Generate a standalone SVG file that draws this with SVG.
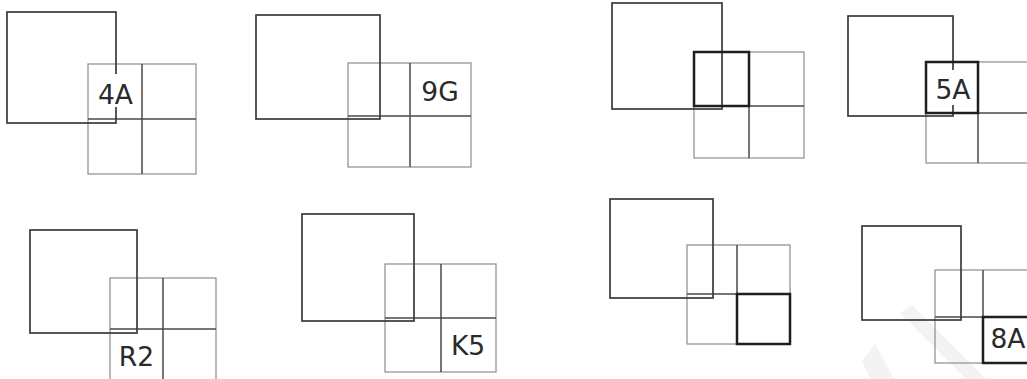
<svg xmlns="http://www.w3.org/2000/svg" width="1027" height="379" viewBox="0 0 1027 379">
  <style>
    .big { fill: none; stroke: #3a3a3a; stroke-width: 1.7; }
    .grid { fill: none; stroke: #8c8c8c; stroke-width: 1.2; }
    .cross { fill: none; stroke: #4a4a4a; stroke-width: 1.5; }
    .bold { fill: none; stroke: #1e1e1e; stroke-width: 2.5; }
    .gap { fill: #fff; stroke: none; }
    .lbl { font-family: "DejaVu Sans", "Liberation Sans", sans-serif; font-size: 26.5px; fill: #2a2a2a; text-anchor: middle; }
    .mark { fill: #f3f3f3; stroke: none; }
  </style>
  <rect width="1027" height="379" fill="#fff"/>

  <!-- faint background mark, lower right -->
  <g id="mark">
    <polygon class="mark" points="900,313 912,305 986,379 966,379"/>
    <polygon class="mark" points="862,361 875,344 894,379 870,379"/>
  </g>

  <!-- top row -->
  <g id="panel-4A">
    <rect class="grid" x="88" y="64" width="108" height="110"/>
    <path class="cross" d="M142,64V174M88,119H196"/>
    <rect class="big" x="7" y="12" width="109" height="111"/>
    <rect class="gap" x="96" y="74" width="39" height="33"/>
    <text class="lbl" x="115.5" y="104">4A</text>
  </g>

  <g id="panel-9G">
    <rect class="grid" x="348" y="63" width="123" height="104"/>
    <path class="cross" d="M410,63V167M348,116H471"/>
    <rect class="big" x="256" y="15" width="124" height="104"/>
    <text class="lbl" x="440" y="101">9G</text>
  </g>

  <g id="panel-top-left-cell">
    <rect class="grid" x="694" y="52" width="110" height="106"/>
    <path class="cross" d="M749,52V158M694,106H804"/>
    <rect class="big" x="612" y="3" width="110" height="106"/>
    <rect class="bold" x="694" y="52" width="55" height="54"/>
  </g>

  <g id="panel-5A">
    <rect class="grid" x="926" y="62" width="104" height="101"/>
    <path class="cross" d="M978,62V163M926,113H1030"/>
    <rect class="big" x="848" y="16" width="105" height="100"/>
    <rect class="bold" x="926" y="62" width="52" height="51"/>
    <rect class="gap" x="935" y="70" width="36" height="35"/>
    <text class="lbl" x="953" y="99">5A</text>
  </g>

  <!-- bottom row -->
  <g id="panel-R2">
    <rect class="grid" x="110" y="278" width="106" height="104"/>
    <path class="cross" d="M163,278V382M110,329H216"/>
    <rect class="big" x="30" y="230" width="107" height="103"/>
    <text class="lbl" x="136.5" y="366">R2</text>
  </g>

  <g id="panel-K5">
    <rect class="grid" x="385" y="264" width="111" height="108"/>
    <path class="cross" d="M441,264V372M385,318H496"/>
    <rect class="big" x="302" y="214" width="112" height="107"/>
    <text class="lbl" x="468" y="355">K5</text>
  </g>

  <g id="panel-bottom-right-cell">
    <rect class="grid" x="687" y="245" width="103" height="99"/>
    <path class="cross" d="M737,245V344M687,294H790"/>
    <rect class="big" x="610" y="199" width="103" height="99"/>
    <rect class="bold" x="737" y="294" width="53" height="50"/>
  </g>

  <g id="panel-8A">
    <rect class="grid" x="935" y="270" width="96" height="93"/>
    <path class="cross" d="M983,270V363M935,317H1031"/>
    <rect class="big" x="862" y="226" width="99" height="94"/>
    <rect class="bold" x="983" y="317" width="48" height="46"/>
    <text class="lbl" x="1008" y="348">8A</text>
  </g>

  <!-- no connectors in this figure -->
  <g id="connectors"/>
</svg>
